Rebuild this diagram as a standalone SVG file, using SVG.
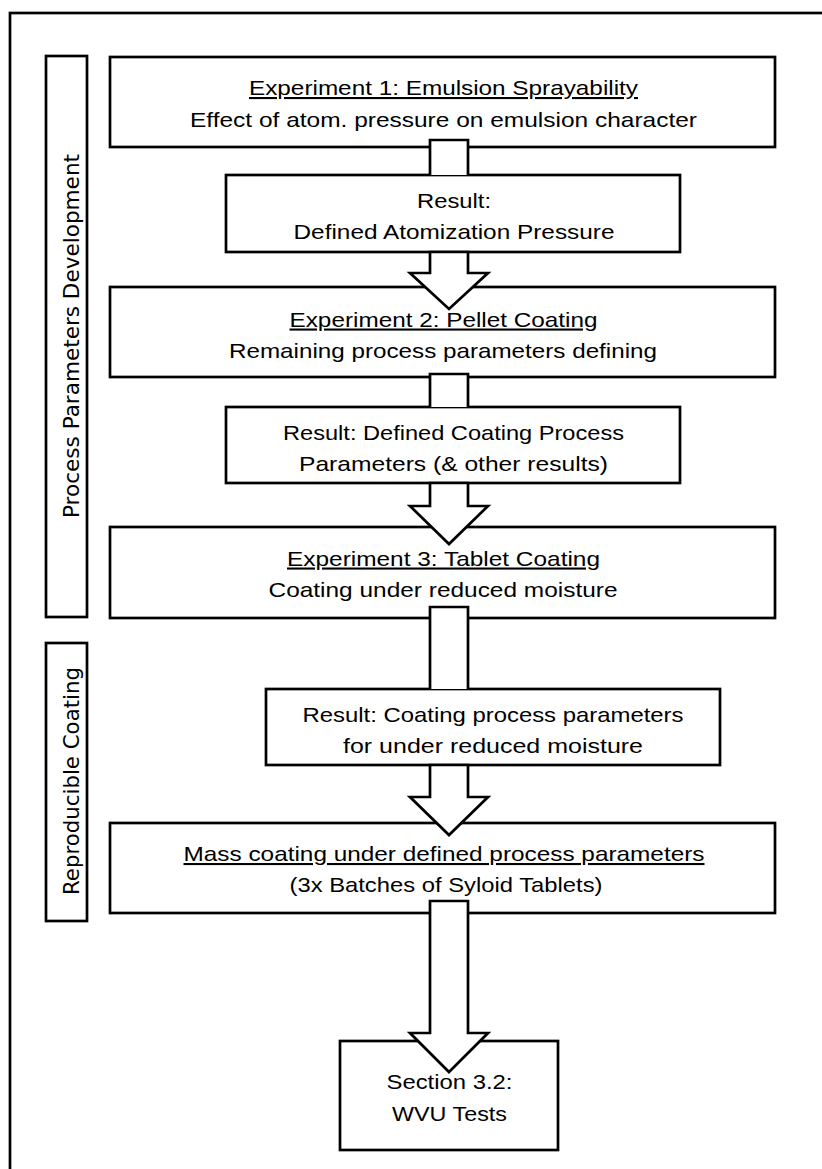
<svg xmlns="http://www.w3.org/2000/svg" width="822" height="1169" viewBox="0 0 822 1169">
  <style>
    .frame { fill: none; stroke: #000; stroke-width: 2.7; }
    .box { fill: #fff; stroke: #000; stroke-width: 2.7; }
    .arrow { fill: #fff; stroke: #000; stroke-width: 2.7; stroke-linejoin: miter; }
    .t { font-family: "Liberation Sans", Arial, sans-serif; font-size: 21px; fill: #000; text-anchor: middle; }
    .u { text-decoration: underline; }
    .side { font-family: "DejaVu Sans", sans-serif; font-size: 22px; fill: #000; text-anchor: middle; }
  </style>

  <rect width="822" height="1169" fill="#fff"/>

  <!-- outer frame (continues past the page edge) -->
  <rect class="frame" x="10" y="13" width="840" height="1180"/>

  <!-- phase labels -->
  <g id="phase-development">
    <rect class="box" x="46" y="56" width="41" height="561"/>
    <text class="side" transform="translate(78.5,336) rotate(-90)" textLength="364" lengthAdjust="spacingAndGlyphs">Process Parameters Development</text>
  </g>
  <g id="phase-reproducible">
    <rect class="box" x="46" y="643" width="41" height="278"/>
    <text class="side" transform="translate(78.5,781) rotate(-90)" textLength="228" lengthAdjust="spacingAndGlyphs">Reproducible Coating</text>
  </g>

  <!-- process steps -->
  <g id="exp1">
    <rect class="box" x="110" y="57" width="665" height="90"/>
    <text class="t u" x="443.5" y="95" textLength="389" lengthAdjust="spacingAndGlyphs">Experiment 1: Emulsion Sprayability</text>
    <text class="t" x="443.5" y="127" textLength="507" lengthAdjust="spacingAndGlyphs">Effect of atom. pressure on emulsion character</text>
  </g>
  <g id="result1">
    <rect class="box" x="226" y="175" width="454" height="77"/>
    <text class="t" x="454" y="207.5" textLength="74" lengthAdjust="spacingAndGlyphs">Result:</text>
    <text class="t" x="454" y="239" textLength="321" lengthAdjust="spacingAndGlyphs">Defined Atomization Pressure</text>
  </g>
  <g id="exp2">
    <rect class="box" x="110" y="287" width="665" height="90"/>
    <text class="t u" x="443.5" y="326.5" textLength="308" lengthAdjust="spacingAndGlyphs">Experiment 2: Pellet Coating</text>
    <text class="t" x="443" y="358" textLength="428" lengthAdjust="spacingAndGlyphs">Remaining process parameters defining</text>
  </g>
  <g id="result2">
    <rect class="box" x="226" y="407" width="454" height="76"/>
    <text class="t" x="453.5" y="439.5" textLength="341" lengthAdjust="spacingAndGlyphs">Result: Defined Coating Process</text>
    <text class="t" x="453.5" y="470.5" textLength="309" lengthAdjust="spacingAndGlyphs">Parameters (&amp; other results)</text>
  </g>
  <g id="exp3">
    <rect class="box" x="110" y="527" width="665" height="91"/>
    <text class="t u" x="443.5" y="565.5" textLength="313" lengthAdjust="spacingAndGlyphs">Experiment 3: Tablet Coating</text>
    <text class="t" x="443" y="596.5" textLength="349" lengthAdjust="spacingAndGlyphs">Coating under reduced moisture</text>
  </g>
  <g id="result3">
    <rect class="box" x="266" y="689" width="454" height="76"/>
    <text class="t" x="493" y="721.5" textLength="381" lengthAdjust="spacingAndGlyphs">Result: Coating process parameters</text>
    <text class="t" x="493" y="752.5" textLength="300" lengthAdjust="spacingAndGlyphs">for under reduced moisture</text>
  </g>
  <g id="mass-coating">
    <rect class="box" x="110" y="823" width="665" height="90"/>
    <text class="t u" x="444" y="861" textLength="521" lengthAdjust="spacingAndGlyphs">Mass coating under defined process parameters</text>
    <text class="t" x="446" y="892" textLength="313" lengthAdjust="spacingAndGlyphs">(3x Batches of Syloid Tablets)</text>
  </g>
  <g id="section-3-2">
    <rect class="box" x="340" y="1041" width="218" height="109"/>
    <text class="t" x="449.5" y="1089" textLength="126" lengthAdjust="spacingAndGlyphs">Section 3.2:</text>
    <text class="t" x="449.5" y="1120.5" textLength="115" lengthAdjust="spacingAndGlyphs">WVU Tests</text>
  </g>

  <!-- block arrows between steps -->
  <g id="connectors">
    <!-- exp1 -> result1 (head hidden beneath result box) -->
    <path class="arrow" d="M430,175 V140 H468 V175"/>
    <!-- result1 -> exp2 -->
    <path class="arrow" d="M430,252 V273 H410 L449,309 L488,273 H468 V252 Z"/>
    <!-- exp2 -> result2 -->
    <path class="arrow" d="M430,407 V374 H468 V407"/>
    <!-- result2 -> exp3 -->
    <path class="arrow" d="M430,483 V506 H410 L449,544 L488,506 H468 V483 Z"/>
    <!-- exp3 -> result3 -->
    <path class="arrow" d="M430,689 V607 H468 V689"/>
    <!-- result3 -> mass coating -->
    <path class="arrow" d="M430,765 V797 H410 L449,835 L488,797 H468 V765 Z"/>
    <!-- mass coating -> section 3.2 -->
    <path class="arrow" d="M430,901 V1033 H410 L449,1072 L488,1033 H468 V901 Z"/>
  </g>
</svg>
